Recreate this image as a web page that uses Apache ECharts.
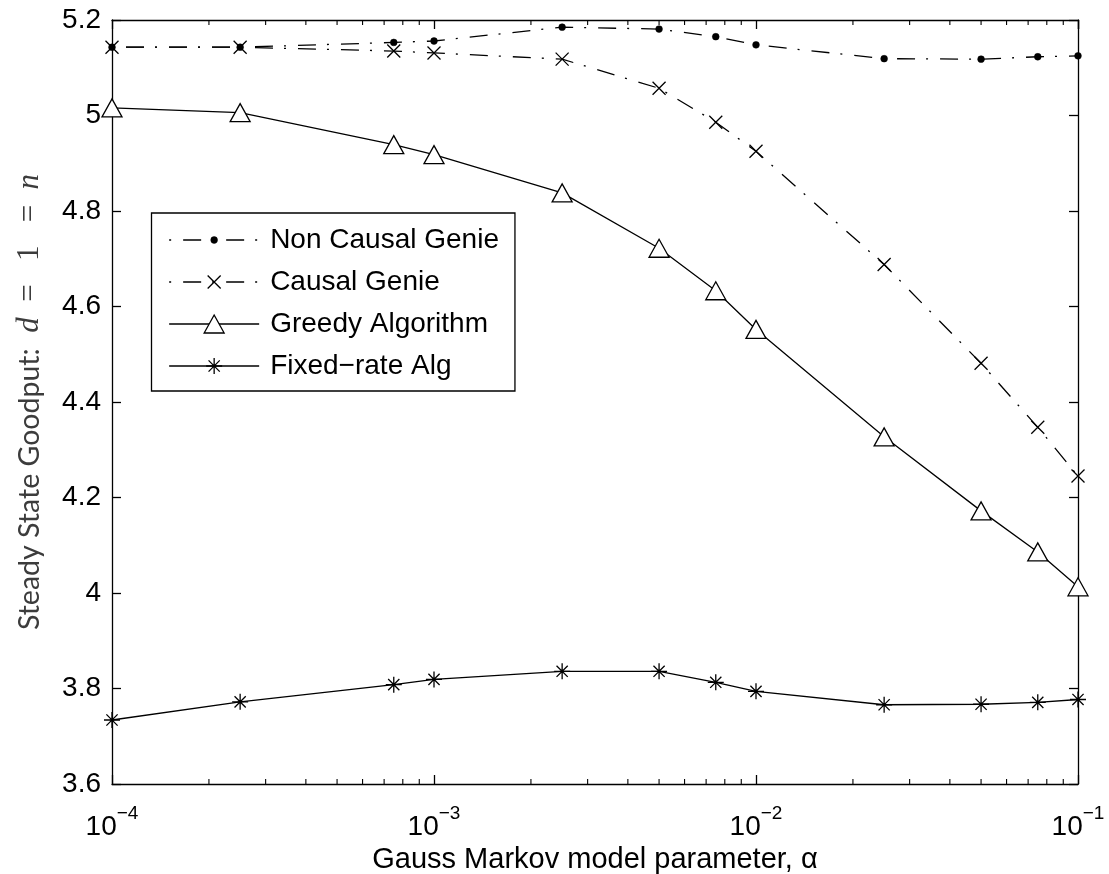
<!DOCTYPE html>
<html>
<head>
<meta charset="utf-8">
<script src="https://cdn.jsdelivr.net/npm/echarts@6/dist/echarts.min.js"></script>
<style>
  html, body { margin: 0; padding: 0; background: #ffffff; }
  #chart { width: 1109px; height: 874px; }
</style>
</head>
<body>
<div id="chart"></div>
<script>
// Gauss Markov model parameter values (x, log scale)
const alpha = [1e-4, 2.5e-4, 7.5e-4, 1e-3, 2.5e-3, 5e-3, 7.5e-3, 1e-2, 2.5e-2, 5e-2, 7.5e-2, 1e-1];

// Steady state goodput for each scheme
const nonCausalGenie  = [5.143, 5.143, 5.153, 5.156, 5.185, 5.181, 5.165, 5.148, 5.119, 5.118, 5.123, 5.125];
const causalGenie     = [5.143, 5.143, 5.135, 5.131, 5.118, 5.057, 4.986, 4.925, 4.688, 4.481, 4.347, 4.245];
const greedyAlgorithm = [5.016, 5.006, 4.939, 4.918, 4.838, 4.722, 4.633, 4.552, 4.327, 4.172, 4.086, 4.013];
const fixedRateAlg    = [3.734, 3.772, 3.808, 3.819, 3.836, 3.836, 3.813, 3.794, 3.766, 3.767, 3.771, 3.777];

const seriesNames = ['Non Causal Genie', 'Causal Genie', 'Greedy Algorithm', 'Fixed\u2212rate Alg'];

// Axis ranges and tick layout
const xMin = 1e-4, xMax = 1e-1;
const yMin = 3.6, yMax = 5.2, yStep = 0.2;
const xMinorTicks = [
  2e-4, 3e-4, 4e-4, 5e-4, 6e-4, 7e-4, 8e-4, 9e-4,
  2e-3, 3e-3, 4e-3, 5e-3, 6e-3, 7e-3, 8e-3, 9e-3,
  2e-2, 3e-2, 4e-2, 5e-2, 6e-2, 7e-2, 8e-2, 9e-2
];

const FONT = "'Liberation Sans', Arial, Helvetica, sans-serif";
const LW = 1.3;

// Marker shapes (extra move-to points pad the bounding box so the glyph keeps a fixed share of it)
const SYM_DOT = 'path://M0,0M20,20M6.6,10A3.4,3.4,0,1,1,13.4,10A3.4,3.4,0,1,1,6.6,10Z';
const SYM_X = 'path://M0,0M20,20M3.5,3.5L16.5,16.5M16.5,3.5L3.5,16.5';
const SYM_TRI = 'path://M0,0M20,20M10,1L20,19L0,19Z';
const SYM_STAR = 'path://M0,0M20,20M10,2L10,18M2,10L18,10M4.4,4.4L15.6,15.6M15.6,4.4L4.4,15.6';

const DASHDOT = [18, 11, 2, 12];

function pairs(ys) { return alpha.map((a, i) => [a, ys[i]]); }

const axisLine = { show: true, onZero: false, lineStyle: { color: '#000', width: LW } };
const axisTick = { show: true, inside: true, length: 9, lineStyle: { color: '#000', width: LW } };

const chart = echarts.init(document.getElementById('chart'), null, { renderer: 'canvas' });

chart.setOption({
  animation: false,
  backgroundColor: '#ffffff',
  grid: { left: 112, right: 31, top: 20, bottom: 90, containLabel: false, outerBoundsMode: 'none' },
  legend: {
    left: 151.5,
    top: 213,
    orient: 'vertical',
    align: 'left',
    backgroundColor: '#ffffff',
    borderColor: '#000',
    borderWidth: LW,
    borderRadius: 0,
    padding: [13, 16, 11, 17],
    itemWidth: 90,
    itemHeight: 25,
    itemGap: 14,
    selectedMode: false,
    textStyle: { fontFamily: FONT, fontSize: 28, color: '#000', lineHeight: 28, padding: [0, 0, 0, 6] },
    lineStyle: { width: LW },
    data: [
      { name: seriesNames[0], itemStyle: { color: '#000', borderColor: '#000', borderWidth: 0.5 } },
      { name: seriesNames[1], itemStyle: { color: 'rgba(0,0,0,0)', borderColor: '#000', borderWidth: LW } },
      { name: seriesNames[2], itemStyle: { color: '#fff', borderColor: '#000', borderWidth: LW } },
      { name: seriesNames[3], itemStyle: { color: 'rgba(0,0,0,0)', borderColor: '#000', borderWidth: LW } }
    ]
  },
  xAxis: [
    {
      type: 'log', logBase: 10, min: xMin, max: xMax, position: 'bottom',
      axisLine: axisLine, axisTick: axisTick, splitLine: { show: false },
      axisLabel: {
        margin: 17,
        verticalAlign: 'top',
        formatter: function (v) {
          const e = Math.round(Math.log10(v));
          return '{b|10}{s|' + (e < 0 ? '\u2212' : '') + Math.abs(e) + '}';
        },
        rich: {
          b: { fontFamily: FONT, fontSize: 28, color: '#000', padding: [12, 0, 0, 0] },
          s: { fontFamily: FONT, fontSize: 19, color: '#000', padding: [0, 0, 14, 0] }
        }
      },
      name: 'Gauss Markov model parameter, \u03b1',
      nameLocation: 'middle',
      nameGap: 52,
      nameTextStyle: { fontFamily: FONT, fontSize: 29, color: '#000' }
    },
    {
      type: 'log', logBase: 10, min: xMin, max: xMax, position: 'top',
      axisLine: axisLine, axisTick: axisTick, splitLine: { show: false },
      axisLabel: { show: false }
    }
  ],
  yAxis: [
    {
      type: 'value', min: yMin, max: yMax, interval: yStep, position: 'left',
      axisLine: axisLine, axisTick: axisTick, splitLine: { show: false },
      axisLabel: {
        margin: 11,
        fontFamily: FONT, fontSize: 28, color: '#000',
        formatter: function (v) { return String(parseFloat(v.toFixed(1))); }
      },
      name: '{t|Steady State Goodput:}{m|  d}{r|  =   1   =  }{m|n}',
      nameLocation: 'middle',
      nameGap: 67,
      nameTextStyle: {
        rich: {
          t: { fontFamily: "Lato, 'Open Sans', sans-serif", fontSize: 28.5, color: '#3c3c3c' },
          m: { fontFamily: "'Liberation Serif', 'DejaVu Serif', serif", fontStyle: 'italic', fontSize: 31, color: '#3c3c3c' },
          r: { fontFamily: "'Liberation Serif', 'DejaVu Serif', serif", fontSize: 31, color: '#3c3c3c' }
        }
      }
    },
    {
      type: 'value', min: yMin, max: yMax, interval: yStep, position: 'right',
      axisLine: axisLine, axisTick: axisTick, splitLine: { show: false },
      axisLabel: { show: false }
    }
  ],
  series: [
    {
      name: seriesNames[0], type: 'line', data: pairs(nonCausalGenie),
      symbol: SYM_DOT, symbolSize: 20, showSymbol: true,
      lineStyle: { color: '#000', width: LW, type: DASHDOT, dashOffset: 29 },
      itemStyle: { color: '#000', borderColor: '#000', borderWidth: 0.5 },
      emphasis: { disabled: true }, z: 4
    },
    {
      name: seriesNames[1], type: 'line', data: pairs(causalGenie),
      symbol: SYM_X, symbolSize: 20,
      lineStyle: { color: '#000', width: LW, type: DASHDOT, dashOffset: 29 },
      itemStyle: { color: 'rgba(0,0,0,0)', borderColor: '#000', borderWidth: LW },
      emphasis: { disabled: true }, z: 3
    },
    {
      name: seriesNames[2], type: 'line', data: pairs(greedyAlgorithm),
      symbol: SYM_TRI, symbolSize: 20,
      lineStyle: { color: '#000', width: LW, type: 'solid' },
      itemStyle: { color: '#fff', borderColor: '#000', borderWidth: LW },
      emphasis: { disabled: true }, z: 3
    },
    {
      name: seriesNames[3], type: 'line', data: pairs(fixedRateAlg),
      symbol: SYM_STAR, symbolSize: 20,
      lineStyle: { color: '#000', width: LW, type: 'solid' },
      itemStyle: { color: 'rgba(0,0,0,0)', borderColor: '#000', borderWidth: LW },
      emphasis: { disabled: true }, z: 3
    },
    {
      // minor ticks of the log x axis, on the bottom and top frame edges
      name: 'xMinorTicks', type: 'custom', silent: true, clip: false, z: 6,
      data: xMinorTicks.map(v => [v, yMin]),
      encode: { x: 0, y: 1 },
      renderItem: function (params, api) {
        const v = api.value(0);
        const b = api.coord([v, yMin]);
        const t = api.coord([v, yMax]);
        const st = { stroke: '#000', lineWidth: 1.1 };
        return {
          type: 'group',
          children: [
            { type: 'line', shape: { x1: b[0], y1: b[1], x2: b[0], y2: b[1] - 5 }, style: st },
            { type: 'line', shape: { x1: t[0], y1: t[1], x2: t[0], y2: t[1] + 5 }, style: st }
          ]
        };
      }
    }
  ]
});
</script>
</body>
</html>
